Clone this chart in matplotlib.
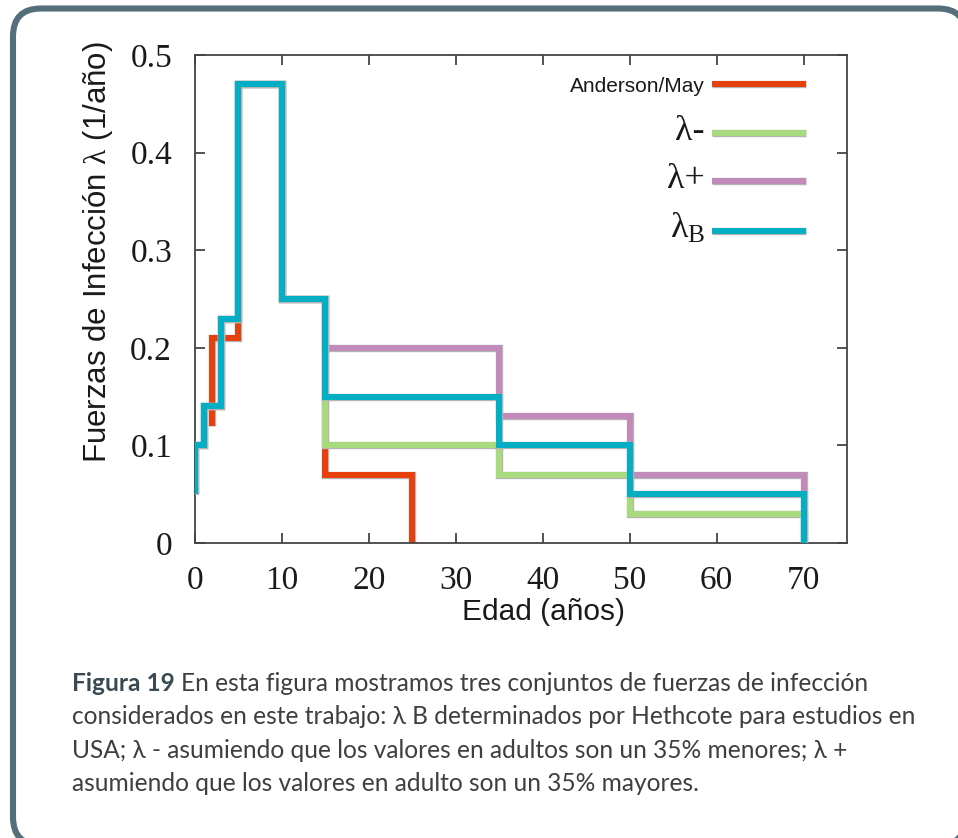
import matplotlib
matplotlib.use("Agg")
import matplotlib.pyplot as plt
import matplotlib.patheffects as pe
from matplotlib.patches import FancyBboxPatch
from matplotlib import font_manager

# ---------------- data ----------------
# Step curves: value y[i] holds on the age interval (x[i-1], x[i]]
ages_am = [2, 5, 10, 15, 25, 25]
lam_am = [0.12, 0.21, 0.47, 0.25, 0.07, 0.0]

ages = [0, 1, 3, 5, 10, 15, 35, 50, 70, 70]
lam_minus = [0.05, 0.10, 0.14, 0.23, 0.47, 0.25, 0.10, 0.07, 0.03, 0.0]
lam_plus = [0.05, 0.10, 0.14, 0.23, 0.47, 0.25, 0.20, 0.13, 0.07, 0.0]
lam_b = [0.05, 0.10, 0.14, 0.23, 0.47, 0.25, 0.15, 0.10, 0.05, 0.0]

series_labels = ["Anderson/May", "λ-", "λ+", "λ$_{\\mathrm{B}}$"]
series_colors = ["#E8400C", "#A9DB7E", "#C18BB9", "#04AEC4"]

x_ticks = [0, 10, 20, 30, 40, 50, 60, 70]
x_ticklabels = ["0", "10", "20", "30", "40", "50", "60", "70"]
y_ticks = [0, 0.1, 0.2, 0.3, 0.4, 0.5]
y_ticklabels = ["0", "0.1", "0.2", "0.3", "0.4", "0.5"]

x_label = "Edad (años)"
y_label = "Fuerzas de Infección $\\mathrm{\\lambda}$ (1/año)"

caption_bold = "Figura 19"
caption_lines = [
    "En esta figura mostramos tres conjuntos de fuerzas de infección",
    "considerados en este trabajo: λ B determinados por Hethcote para estudios en",
    "USA; λ - asumiendo que los valores en adultos son un 35% menores; λ +",
    "asumiendo que los valores en adulto son un 35% mayores.",
]

# ---------------- style ----------------
plt.rcParams["font.family"] = ["Liberation Sans", "DejaVu Sans"]
plt.rcParams["mathtext.fontset"] = "custom"
plt.rcParams["mathtext.rm"] = "Liberation Serif"
plt.rcParams["mathtext.it"] = "Liberation Serif:italic"

W, H = 958, 838
fig = plt.figure(figsize=(W / 100, H / 100), dpi=100)

# page layer in pixel units (rounded frame + caption)
bg = fig.add_axes([0, 0, 1, 1], zorder=0)
bg.set_xlim(0, W)
bg.set_ylim(H, 0)
bg.axis("off")
bg.add_patch(FancyBboxPatch((13, 8.5), 953, 836.5,
                            boxstyle="round,pad=0,rounding_size=28",
                            fc="white", ec="#546E7A", lw=4.4))

# ---------------- chart ----------------
ax = fig.add_axes([195 / W, 1 - 543 / H, 652 / W, 488 / H], zorder=1)
ax.set_facecolor("none")

lw = 4.3
outline = [pe.Stroke(linewidth=lw + 1.0, foreground="#b4b4b4"), pe.Normal()]
common = dict(where="pre", lw=lw, solid_capstyle="butt",
              solid_joinstyle="miter", path_effects=outline)

l_am, = ax.step(ages_am, lam_am, color=series_colors[0], zorder=2, **common)
l_mi, = ax.step(ages, lam_minus, color=series_colors[1], zorder=3, **common)
l_pl, = ax.step(ages, lam_plus, color=series_colors[2], zorder=3, **common)
l_b, = ax.step(ages, lam_b, color=series_colors[3], zorder=4, **common)
handles = [l_am, l_mi, l_pl, l_b]

ax.set_xlim(0, 75)
ax.set_ylim(0, 0.5)

serif = ["Liberation Serif", "DejaVu Serif"]
ax.set_xticks(x_ticks, x_ticklabels, fontfamily=serif, fontsize=24, color="#1a1a1a")
ax.set_yticks(y_ticks, y_ticklabels, fontfamily=serif, fontsize=24, color="#1a1a1a")
ax.tick_params(direction="in", length=7, width=1.3, color="#444444",
               top=True, right=True)
ax.tick_params(axis="x", pad=16)
ax.tick_params(axis="y", pad=16.5)
for s in ax.spines.values():
    s.set_color("#444444")
    s.set_linewidth(1.3)

ax.set_xlabel(x_label, fontsize=21.5, color="#1a1a1a")
ax.xaxis.label.set_verticalalignment("center")
ax.xaxis.set_label_coords((543 - 195) / 652, (543 - 612) / 488)

ax.set_ylabel(y_label, fontsize=22.5, color="#1a1a1a")
ax.yaxis.label.set_verticalalignment("center")
ax.yaxis.set_label_coords((98 - 195) / 652, (543 - 252) / 488)

# key entries, one row each, labels to the left of the sample lines
key_rows = [86, 132, 180, 229]
for i, (h, lab, yc) in enumerate(zip(handles, series_labels, key_rows)):
    leg = ax.legend([h], [lab], loc="center right",
                    bbox_to_anchor=(806 / W, 1 - yc / H),
                    bbox_transform=fig.transFigure, frameon=False,
                    markerfirst=False, handlelength=4.5, handletextpad=0.35,
                    borderpad=0, borderaxespad=0, fontsize=15)
    t = leg.get_texts()[0]
    t.set_color("#1a1a1a")
    if i > 0:
        t.set_fontfamily(serif)
        t.set_fontsize(26)
    if i < len(handles) - 1:
        ax.add_artist(leg)

# ---------------- caption ----------------
available = {f.name for f in font_manager.fontManager.ttflist}
cap_font = "Lato" if "Lato" in available else "Open Sans"

renderer = fig.canvas.get_renderer()
probe = bg.text(0, 0, caption_lines[1], fontfamily=cap_font, fontsize=10)
probe_w = probe.get_window_extent(renderer).width
probe.remove()
cap_size = 10 * (918 - 72) / probe_w

cap_color = "#3f3f3f"
line_y = [683, 716, 750, 783]
tb = bg.text(72, line_y[0], caption_bold, fontfamily=cap_font, fontsize=cap_size,
             fontweight="bold", color="#3a4a52", va="center", ha="left")
bw = tb.get_window_extent(renderer).width
sp = bg.text(0, 0, "a a", fontfamily=cap_font, fontsize=cap_size)
sa = bg.text(0, 0, "aa", fontfamily=cap_font, fontsize=cap_size)
space_w = sp.get_window_extent(renderer).width - sa.get_window_extent(renderer).width
sp.remove()
sa.remove()

bg.text(72 + bw + space_w, line_y[0], caption_lines[0], fontfamily=cap_font,
        fontsize=cap_size, color=cap_color, va="center", ha="left")
for y, line in zip(line_y[1:], caption_lines[1:]):
    bg.text(72, y, line, fontfamily=cap_font, fontsize=cap_size,
            color=cap_color, va="center", ha="left")

fig.savefig("out.png", dpi=100, facecolor="white")
